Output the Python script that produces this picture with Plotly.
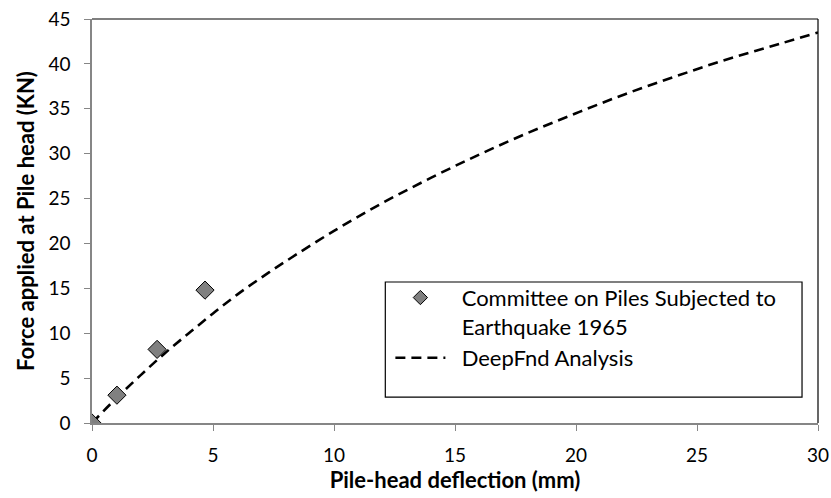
import plotly.graph_objects as go

# Observed data (Committee on Piles Subjected to Earthquake 1965)
obs_x = [0.0, 1.03, 2.69, 4.67]
obs_y = [0.0, 3.1, 8.2, 14.8]

# DeepFnd Analysis curve
fnd_x = [0, 1, 2, 3, 4, 5, 6, 7, 8, 10, 12, 14, 16, 18, 20, 22, 24, 26, 28, 30]
fnd_y = [0, 2.75, 5.3, 7.75, 10.0, 12.2, 14.3, 16.2, 18.0, 21.4, 24.5, 27.3,
         29.9, 32.3, 34.5, 36.6, 38.5, 40.3, 41.9, 43.5]

x_ticks = [0, 5, 10, 15, 20, 25, 30]
y_ticks = [0, 5, 10, 15, 20, 25, 30, 35, 40, 45]

FONT = "Lato"
NB = "\u00a0\u00a0"
OBS_NAME = NB + "Committee on Piles Subjected to<br>" + NB + "Earthquake 1965"

fig = go.Figure()
fig.add_trace(go.Scatter(
    x=fnd_x, y=fnd_y, mode="lines", name=NB + "DeepFnd Analysis",
    line=dict(color="black", width=2.6, dash="10px,6px", shape="spline"),
))
fig.add_trace(go.Scatter(
    x=obs_x, y=obs_y, mode="markers", name=OBS_NAME, showlegend=False,
    marker=dict(symbol="diamond", size=14, color="#808080",
                line=dict(color="black", width=1)),
))
# legend-only entry with the smaller legend diamond
fig.add_trace(go.Scatter(
    x=[None], y=[None], mode="markers", name=OBS_NAME,
    marker=dict(symbol="diamond", size=11, color="#808080",
                line=dict(color="black", width=1)),
))

fig.update_layout(
    width=831, height=498,
    margin=dict(l=92, r=13, t=19, b=75),
    paper_bgcolor="white", plot_bgcolor="white",
    font=dict(family=FONT, size=19, color="black"),
    showlegend=True,
    legend=dict(
        x=0.411, y=0.362, xanchor="left", yanchor="top",
        bgcolor="rgba(0,0,0,0)", borderwidth=0,
        font=dict(family=FONT, size=22, color="black"),
        traceorder="reversed", itemwidth=50, valign="top",
        itemsizing="trace",
    ),
    xaxis=dict(
        range=[0, 30], tickvals=x_ticks, showgrid=False, zeroline=False,
        showline=True, linecolor="#868686", linewidth=1.5,
        ticks="outside", ticklen=6, tickcolor="#868686",
        ticklabelstandoff=8, automargin=False,
        tickfont=dict(size=19),
        title=dict(text="<b>Pile-head deflection (mm)</b>",
                   font=dict(size=22), standoff=3),
    ),
    yaxis=dict(
        range=[0, 45], tickvals=y_ticks, showgrid=False, zeroline=False,
        showline=True, linecolor="#868686", linewidth=1.5,
        ticks="outside", ticklen=6, tickcolor="#868686",
        ticklabelstandoff=10, automargin=False,
        tickfont=dict(size=19),
        title=dict(text="<b>Force applied at Pile head (KN)</b>",
                   font=dict(size=22), standoff=8),
    ),
    shapes=[
        dict(type="line", xref="paper", yref="paper", x0=0, x1=1, y0=1, y1=1,
             line=dict(color="black", width=1.2)),
        dict(type="line", xref="paper", yref="paper", x0=1, x1=1, y0=0, y1=1,
             line=dict(color="black", width=1.2)),
        dict(type="rect", xref="paper", yref="paper", x0=0.404, x1=0.978,
             y0=0.064, y1=0.349, line=dict(color="black", width=1.2)),
    ],
)

fig.write_html("out.html")
